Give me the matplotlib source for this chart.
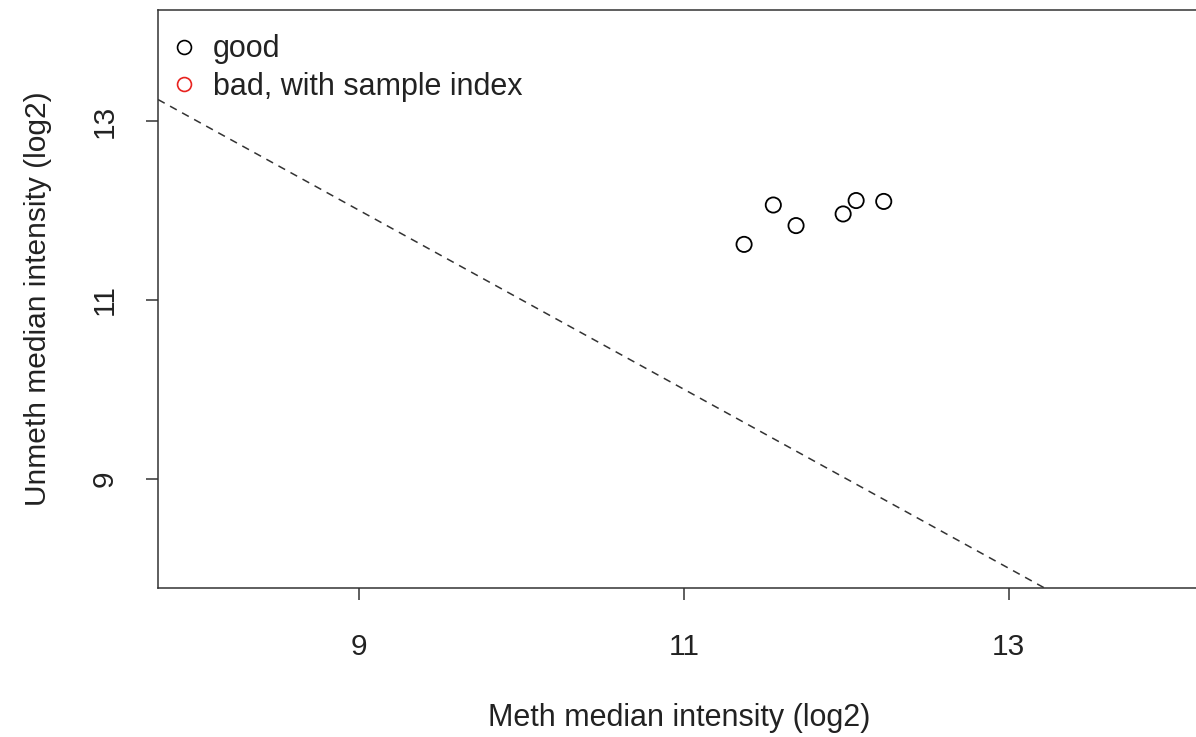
import matplotlib
matplotlib.use("Agg")
import matplotlib.pyplot as plt
from matplotlib.lines import Line2D

plt.rcParams['font.family'] = ['Liberation Sans', 'DejaVu Sans']

# sample medians (log2)
meth = [11.37, 11.55, 11.69, 11.98, 12.06, 12.23]
unmeth = [11.62, 12.06, 11.83, 11.96, 12.11, 12.10]
cutoff = 10.5
legend_labels = ["good", "bad, with sample index"]
legend_colors = ["black", "#e8231f"]

fig = plt.figure(figsize=(11.96, 7.37), dpi=100)
ax = fig.add_axes([0.1321, 0.2022, 0.872, 0.7843])

ax.scatter(meth, unmeth, s=120, facecolors="none", edgecolors="black",
           linewidths=1.3, zorder=3)

xlim = (7.761, 14.183)
ax.plot(xlim, [2 * cutoff - x for x in xlim], color="#333333", lw=1.1,
        linestyle=(0, (5, 4)), clip_on=True)

ax.set_xlim(*xlim)
ax.set_ylim(7.78, 14.24)
ax.set_xticks([9, 11, 13])
ax.set_yticks([9, 11, 13])
ax.set_yticklabels(["9", "11", "13"], rotation=90, va="center")
ax.tick_params(axis="both", labelsize=21.5, length=8.5, width=1.1,
               color="#333333", labelcolor="#222222")
ax.tick_params(axis="x", pad=24)
ax.tick_params(axis="y", pad=20)
for sp in ax.spines.values():
    sp.set_linewidth(1.1)
    sp.set_color("#333333")

ax.set_xlabel("Meth median intensity (log2)", fontsize=22, color="#222222",
              labelpad=30)
ax.set_ylabel("Unmeth median intensity (log2)", fontsize=21.5, color="#222222",
              labelpad=28)

handles = [Line2D([], [], marker="o", linestyle="none", markersize=10,
                  markerfacecolor="none", markeredgecolor=c, markeredgewidth=1.2)
           for c in legend_colors]
ax.legend(handles, legend_labels, loc="upper left", frameon=False,
          fontsize=22, handletextpad=0.5, borderaxespad=0.3,
          labelspacing=0.25, handlelength=0.9, labelcolor="#222222",
          bbox_to_anchor=(-0.009, 0.995))

fig.savefig("out.png", dpi=100)
